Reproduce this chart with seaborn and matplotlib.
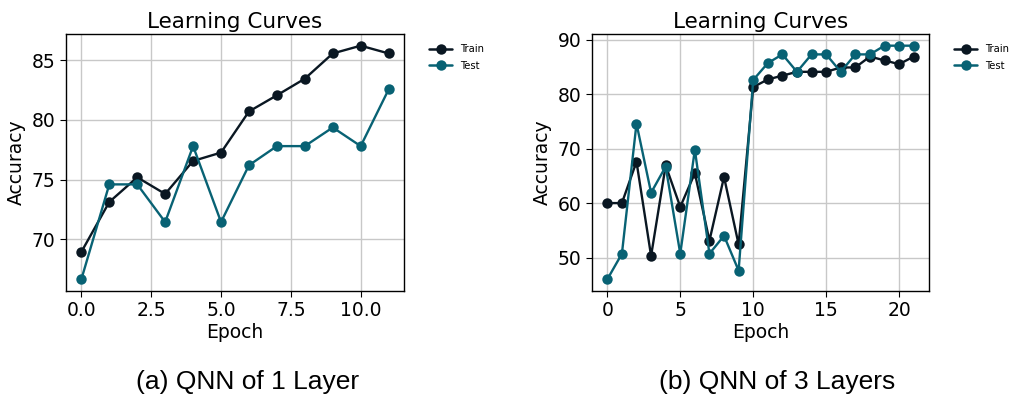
import numpy as np
import pandas as pd
import matplotlib
matplotlib.use("Agg")
import matplotlib.pyplot as plt
import seaborn as sns

# Accuracy per epoch, QNN with 1 layer
epochs_1 = list(range(12))
train_1 = [68.95, 73.13, 75.19, 73.80, 76.56, 77.26, 80.70, 82.05, 83.44, 85.55, 86.20, 85.55]
test_1 = [66.66, 74.60, 74.60, 71.45, 77.80, 71.45, 76.20, 77.80, 77.80, 79.36, 77.80, 82.54]

# Accuracy per epoch, QNN with 3 layers
epochs_3 = list(range(22))
train_3 = [60.0, 60.0, 67.6, 50.3, 66.9, 59.3, 65.5, 53.1, 64.8, 52.4, 81.3,
           82.7, 83.4, 84.1, 84.1, 84.1, 84.9, 84.9, 86.9, 86.2, 85.5, 86.9]
test_3 = [46.0, 50.7, 74.6, 61.9, 66.7, 50.7, 69.8, 50.7, 54.0, 47.6, 82.6,
          85.7, 87.3, 84.1, 87.3, 87.3, 84.1, 87.3, 87.3, 88.9, 88.9, 88.9]

series_names = ["Train", "Test"]
captions = ["(a) QNN of 1 Layer", "(b) QNN of 3 Layers"]
palette = {"Train": "#0a1722", "Test": "#086274"}


def long_frame(epochs, train, test):
    return pd.DataFrame({
        "Epoch": epochs + epochs,
        "Accuracy": train + test,
        "Split": ["Train"] * len(train) + ["Test"] * len(test),
    })


sns.set_style("ticks")
plt.rcParams["font.family"] = ["DejaVu Sans"]
plt.rcParams["text.color"] = "black"
plt.rcParams["axes.labelcolor"] = "black"
plt.rcParams["xtick.color"] = "black"
plt.rcParams["ytick.color"] = "black"

fig = plt.figure(figsize=(10.13, 4.01), dpi=100)
W, H = 1013, 401
panels = [
    (66, 404, long_frame(epochs_1, train_1, test_1)),
    (592, 929, long_frame(epochs_3, train_3, test_3)),
]
caption_x = [248, 777]

for i, (x0, x1, df) in enumerate(panels):
    ax = fig.add_axes([x0 / W, 1 - 291 / H, (x1 - x0) / W, (291 - 34) / H])
    sns.lineplot(data=df, x="Epoch", y="Accuracy", hue="Split",
                 hue_order=series_names, palette=palette, marker="o",
                 markersize=7.5, markeredgewidth=0, linewidth=1.7, ax=ax)
    ax.grid(True, color="#c8c8c8", linewidth=1.0)
    ax.set_axisbelow(True)
    for s in ax.spines.values():
        s.set_color("black")
        s.set_linewidth(1.0)
    ax.tick_params(labelsize=13.5, length=4, width=0.8, colors="black")
    ax.set_xlabel("Epoch", fontsize=13.5, labelpad=2)
    ax.set_ylabel("Accuracy", fontsize=13.5, labelpad=4)
    ax.set_title("Learning Curves", fontsize=15.5, pad=4, color="black")
    leg = ax.legend(loc="upper left", bbox_to_anchor=(1.063, 0.975), frameon=False,
                    fontsize=7.2, handlelength=2.3, handletextpad=0.8,
                    borderaxespad=0.0, labelspacing=0.65)
    for line in leg.get_lines():
        line.set_markersize(7.5)
        line.set_markeredgewidth(0)
        line.set_linewidth(1.8)
    fig.text(caption_x[i] / W, 1 - 382 / H, captions[i], ha="center",
             va="center", fontsize=19, family=["Liberation Sans", "DejaVu Sans"])

fig.savefig("out.png", dpi=100)
